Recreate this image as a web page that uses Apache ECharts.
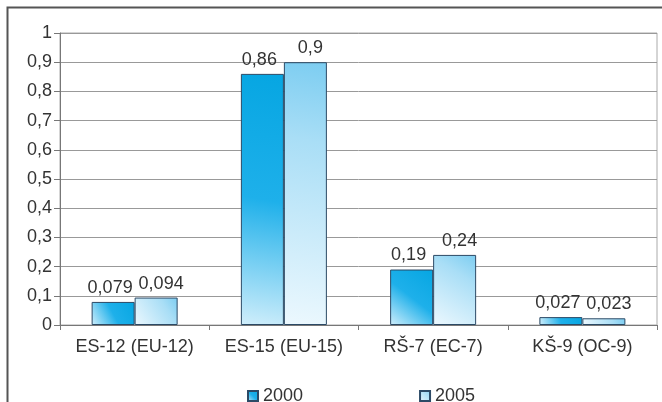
<!DOCTYPE html>
<html><head><meta charset="utf-8">
<script src="https://cdn.jsdelivr.net/npm/echarts@6/dist/echarts.min.js"></script>
<style>html,body{margin:0;padding:0;background:#fff}#c{width:662px;height:402px}</style>
</head><body><div id="c"></div>
<script>
const categories = ['ES-12 (EU-12)', 'ES-15 (EU-15)', 'RŠ-7 (EC-7)', 'KŠ-9 (OC-9)'];
const series2000 = [0.079, 0.86, 0.19, 0.027];
const series2005 = [0.094, 0.9, 0.24, 0.023];
const seriesNames = ['2000', '2005'];
const yTicks = [0, 0.1, 0.2, 0.3, 0.4, 0.5, 0.6, 0.7, 0.8, 0.9, 1];

const fmt = v => String(v).replace('.', ',');
const font = 'Liberation Sans, Arial, sans-serif';
const chart = echarts.init(document.getElementById('c'));
const g2000 = new echarts.graphic.LinearGradient(1, 0, 0, 1, [
  {offset: 0, color: '#06a6e2'}, {offset: 0.5, color: '#1eb0ea'}, {offset: 1, color: '#d0eefb'}]);
const g2005 = new echarts.graphic.LinearGradient(1, 0, 0, 1, [
  {offset: 0, color: '#7ccdf1'}, {offset: 0.3, color: '#a9def6'}, {offset: 1, color: '#ecf8fe'}]);
chart.setOption({
  animation: false,
  graphic: [{type: 'rect', shape: {x: 7.5, y: 7.5, width: 700, height: 450},
    style: {fill: 'none', stroke: '#555', lineWidth: 2}, silent: true}],
  grid: {left: 60, right: 5, top: 33, bottom: 77, containLabel: false,
    show: true, borderColor: '#aaa', borderWidth: 1},
  legend: {top: 382, left: 242, itemGap: 116, itemWidth: 10, itemHeight: 10,
    icon: 'rect', textStyle: {fontSize: 18, color: '#333', fontFamily: font, padding: [0,0,0,0]},
    data: seriesNames},
  xAxis: {type: 'category', data: categories,
    axisLine: {lineStyle: {color: '#777'}}, axisTick: {show: true, length: 5, lineStyle: {color: '#777'}},
    axisLabel: {interval: 0, fontSize: 18, color: '#333', fontFamily: font, margin: 13}},
  yAxis: {type: 'value', min: 0, max: 1, interval: 0.1,
    axisLine: {show: true, lineStyle: {color: '#777'}}, axisTick: {show: true, length: 6, lineStyle: {color: '#777'}},
    splitLine: {lineStyle: {color: '#999'}},
    axisLabel: {fontSize: 18, color: '#333', fontFamily: font, margin: 8,
      formatter: v => yTicks.includes(+v.toFixed(1)) ? fmt(+v.toFixed(1)) : ''}},
  series: [
    {name: seriesNames[0], type: 'bar', data: series2000, barWidth: 43, barGap: '0%',
      itemStyle: {color: g2000, borderColor: '#2c4a66', borderWidth: 1},
      label: {show: true, position: 'top', distance: 5, offset: [-3, 0], fontSize: 18, color: '#333', fontFamily: font, formatter: p => fmt(p.value)}},
    {name: seriesNames[1], type: 'bar', data: series2005, barWidth: 43,
      itemStyle: {color: g2005, borderColor: '#2c4a66', borderWidth: 1},
      label: {show: true, position: 'top', distance: 5, offset: [5, 0], fontSize: 18, color: '#333', fontFamily: font, formatter: p => fmt(p.value)}}
  ]
});
</script></body></html>
